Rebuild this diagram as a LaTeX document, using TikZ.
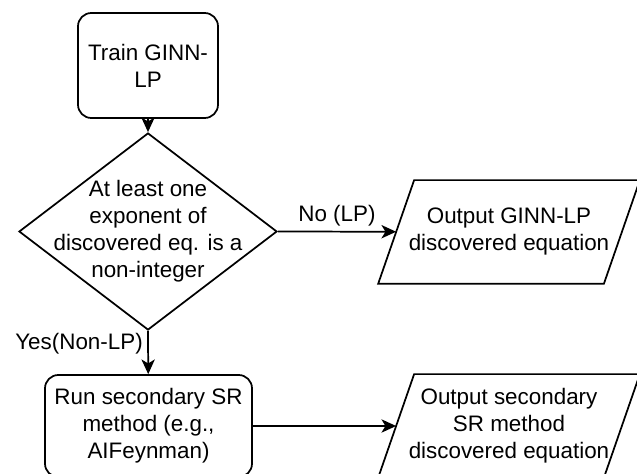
\documentclass[tikz,border=0pt]{standalone}
\usepackage{fontspec}
\setmainfont{Liberation Sans}
\usetikzlibrary{shapes.geometric,arrows.meta}
\tikzset{basic/.style={draw,line width=1.3pt,align=center,
                       font=\fontsize{16.8}{20.25}\selectfont}}
\tikzset{process/.style={basic,rectangle,rounded corners=10pt}}
\tikzset{decision/.style={basic,diamond,inner sep=0pt,
                          minimum width=193.5pt,minimum height=147.75pt}}
\tikzset{output/.style={basic,draw=none,rectangle,inner sep=0pt,
                        minimum width=168pt,minimum height=76.5pt,
    append after command={\pgfextra{\draw[line width=1.3pt]
        ([xshift=13.5pt]\tikzlastnode.north west) -- ([xshift=13.5pt]\tikzlastnode.north east)
        -- ([xshift=-13.5pt]\tikzlastnode.south east)
        -- ([xshift=-13.5pt]\tikzlastnode.south west) -- cycle;}}}}
\tikzset{flow/.style={line width=1.3pt,-{Stealth[length=11pt,width=10pt,inset=3pt]}}}
\tikzset{flowlabel/.style={font=\fontsize{16.8}{20.25}\selectfont}}

\begin{document}
\begin{tikzpicture}[x=0.75pt,y=-0.75pt]
    % Fix the canvas
    \clip (0,0) rectangle (637,474);
    % Draw start node
    \node[process,minimum width=105pt,minimum height=78.75pt] (train) at (148,65.5)
        {Train GINN-\\LP};
    % Draw decision node and its text
    \node[decision] (cond) at (148,231.5) {};
    \node[flowlabel,align=center] (condtext) at (cond)
        {At least one\\exponent of\\discovered eq. is a\\non-integer};
    % Draw output nodes
    \node[output] (outlp) at (509,232) {Output GINN-LP\\discovered equation};
    \node[output] (outsr) at (509,426) {Output secondary\\SR method\\discovered equation};
    % Draw secondary method node
    \node[process,minimum width=155.25pt,minimum height=76.5pt] (runsr) at (148.5,426)
        {Run secondary SR\\method (e.g.,\\AIFeynman)};
    % Connect the nodes
    \draw[flow] (train) -- (cond);
    \draw[flow] (cond.east) -- node[flowlabel,above] {No (LP)} (outlp);
    \draw[flow] (cond.south) -- node[flowlabel,left,pos=0.3] {Yes(Non-LP)} (runsr);
    \draw[flow] (runsr) -- (outsr);
\end{tikzpicture}
\end{document}
